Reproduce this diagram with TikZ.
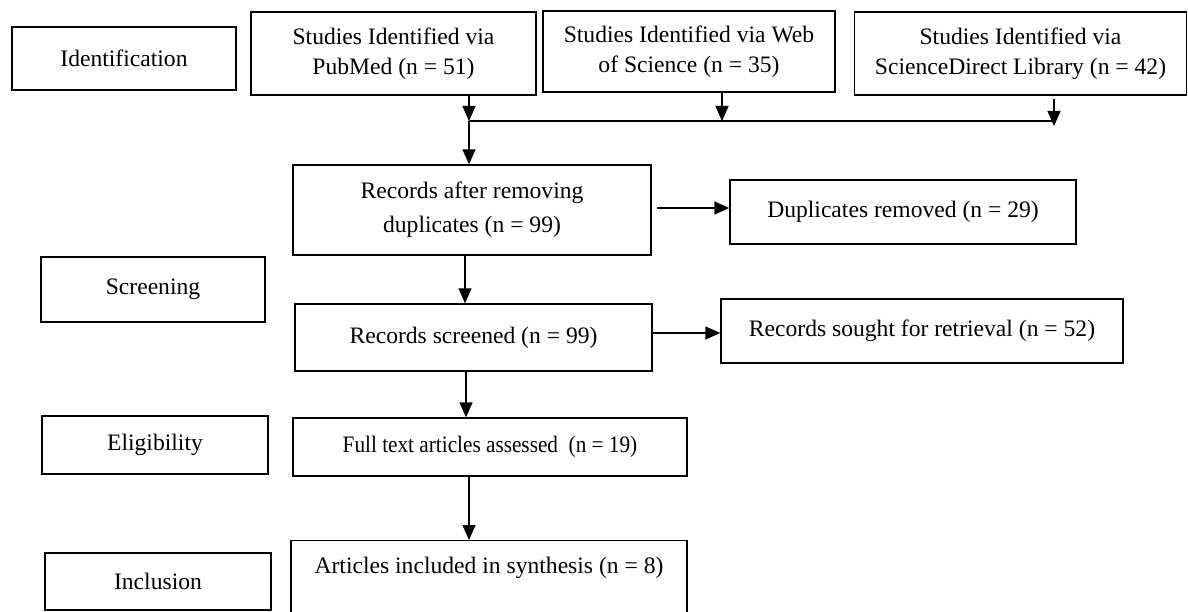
\documentclass[tikz,border=0pt]{standalone}
\usepackage{fontspec}
\usepackage{graphicx}
\setmainfont{Liberation Serif}
\usetikzlibrary{arrows.meta}
\begin{document}
\begin{tikzpicture}[x=1pt,y=-1pt,
  box/.style={draw, line width=1.3pt, inner sep=0pt, align=center,
    font=\fontsize{23.6}{30}\selectfont},
  arr/.style={-{Triangle[length=15pt,width=13pt]}, line width=1.3pt},
  ln/.style={line width=1.3pt}]
\useasboundingbox (0,0) rectangle (1188,612);
% stage labels
\node[box, minimum width=224pt, minimum height=63pt] (ident) at (124,58.5) {Identification};
\node[box, minimum width=224pt, minimum height=65pt] (scr) at (153,289.5) {Screening};
\node[box, minimum width=226pt, minimum height=58pt] (elig) at (155,445) {Eligibility};
\node[box, minimum width=226pt, minimum height=57pt] (incl) at (158,581.5) {Inclusion};
% sources
\node[box, minimum width=285pt, minimum height=83pt] (pubmed) at (393.5,53.5) {Studies Identified via\\PubMed (n = 51)};
\node[box, minimum width=292pt, minimum height=81pt] (wos) at (689,51.5) {Studies Identified via Web\\of Science (n = 35)};
\node[box, minimum width=332pt, minimum height=83pt] (sd) at (1020.5,53.5) {Studies Identified via\\ScienceDirect Library (n = 42)};
% flow
\node[box, minimum width=358pt, minimum height=90pt, font=\fontsize{23.6}{34}\selectfont] (rec) at (472,210) {Records after removing\\duplicates (n = 99)};
\node[box, minimum width=346pt, minimum height=64pt] (dup) at (903,212) {Duplicates removed (n = 29)};
\node[box, minimum width=357pt, minimum height=67pt] (screened) at (473.5,337.5) {Records screened (n = 99)};
\node[box, minimum width=402pt, minimum height=64pt] (retr) at (922,331) {Records sought for retrieval (n = 52)};
\node[box, minimum width=394pt, minimum height=58pt] (full) at (490,447) {\scalebox{0.9}[1]{Full text articles assessed\ \ (n = 19)}};
\node[box, anchor=north, minimum width=396pt, text height=33pt, text depth=50pt] (art) at (489,540) {Articles included in synthesis (n = 8)};
% connectors
\coordinate (j1) at (469,121);
\coordinate (j2) at (722,121);
\coordinate (j3) at (1054,121);
\coordinate (sdstart) at (1054,99);
\draw[arr] (j1 |- pubmed.south) -- (j1);
\draw[arr] (j2 |- wos.south) -- (j2);
\draw[ln] (j1) -- (j3);
\draw[arr] (sdstart) -- ++(0,27);
\draw[arr] (j1) -- (j1 |- rec.north);
\coordinate (d0) at (657,208);
\draw[arr] (d0) -- (d0 -| dup.west);
\coordinate (r0) at (465,255);
\draw[arr] (r0) -- (r0 |- screened.north);
\coordinate (s0) at (652,333);
\draw[arr] (s0) -- (s0 -| retr.west);
\coordinate (f0) at (466,371);
\draw[arr] (f0) -- (f0 |- full.north);
\coordinate (a0) at (469,476);
\draw[arr] (a0) -- (a0 |- art.north);
\end{tikzpicture}
\end{document}
